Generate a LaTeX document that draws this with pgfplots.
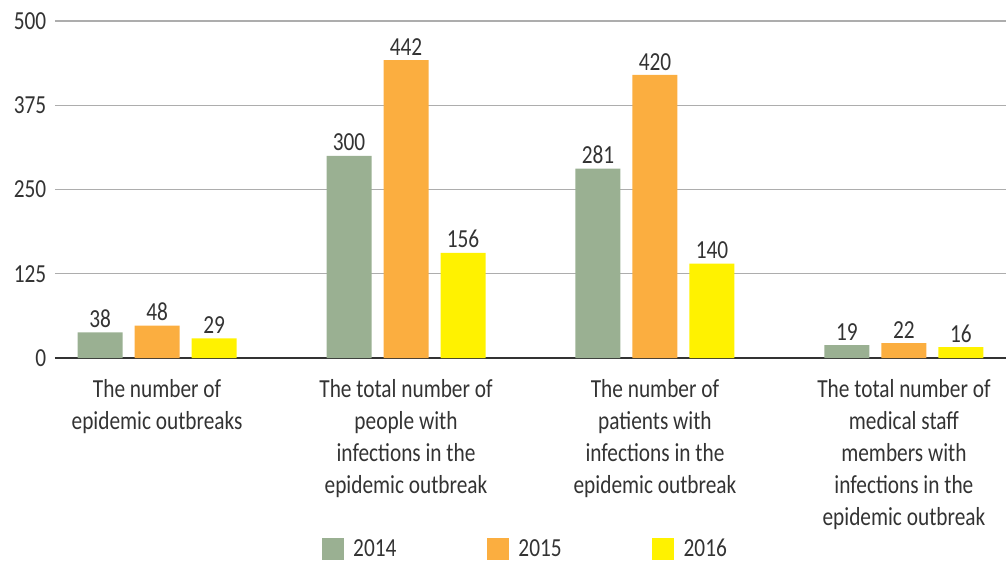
\documentclass[border=0pt]{standalone}
\usepackage{pgfplots}
\pgfplotsset{compat=1.18}
\usepackage{fontspec}
\setmainfont{Carlito}[FakeStretch=0.82]
\definecolor{cA}{HTML}{9AB092}
\definecolor{cB}{HTML}{FBAE40}
\definecolor{cC}{HTML}{FFF200}
\definecolor{txt}{HTML}{333333}
\begin{document}
\begin{tikzpicture}
\useasboundingbox (-41.25pt,-153pt) rectangle (713.25pt,268.5pt);
\begin{axis}[
  at={(0,0)}, anchor=south west,
  scale only axis,
  width=713.25pt, height=252.75pt,
  xmin=-0.41, xmax=3.41,
  ymin=0, ymax=500,
  ytick={0,125,250,375,500},
  xtick={0,1,2,3},
  xticklabels={{The number of\\epidemic outbreaks},
    {The total number of\\people with\\infections in the\\epidemic outbreak},
    {The number of\\patients with\\infections in the\\epidemic outbreak},
    {The total number of\\medical staff\\members with\\infections in the\\epidemic outbreak}},
  ybar=9pt, bar width=33.75pt,
  axis x line*=bottom, axis y line*=left,
  y axis line style={draw=none},
  x axis line style={-, draw=txt, line width=1.1pt},
  major tick style={draw=none},
  ymajorgrids,
  grid style={draw=black!32, line width=0.8pt},
  /pgf/number format/assume math mode=true,
  tick label style={font=\fontsize{19.5}{24}\selectfont, text=txt},
  yticklabel style={xshift=-3pt},
  xticklabel style={align=center, anchor=north, yshift=-8pt},
  nodes near coords,
  nodes near coords style={font=\fontsize{19.5}{24}\selectfont, text=txt},
  legend columns=3,
  legend style={draw=none, at={(0.495,-0.566)}, anchor=center,
    font=\fontsize{19.5}{24}\selectfont, text=txt,
    /tikz/every odd column/.append style={column sep=5pt},
    /tikz/every even column/.append style={column sep=66pt}},
  legend image code/.code={\fill[#1] (0pt,-8.25pt) rectangle (16.5pt,8.25pt);},
]
\addplot[fill=cA, draw=none] coordinates {(0,38) (1,300) (2,281) (3,19)};
\addplot[fill=cB, draw=none] coordinates {(0,48) (1,442) (2,420) (3,22)};
\addplot[fill=cC, draw=none] coordinates {(0,29) (1,156) (2,140) (3,16)};
\legend{2014,2015,2016}
\end{axis}
\end{tikzpicture}
\end{document}
